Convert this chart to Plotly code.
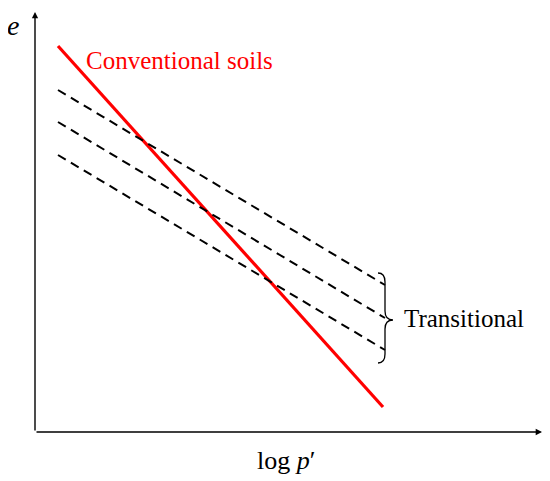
import plotly.graph_objects as go

# Schematic e - log p' diagram (axis units: x = log p', y = e, origin at axes corner)
red_x = [23, 348]
red_y = [386, 25]

dash_x = [23, 350]
dash_upper = [342, 147]
dash_middle = [310, 114]
dash_lower = [277, 82]

X_END, Y_END = 507, 420
SERIF = "Liberation Serif, DejaVu Serif, serif"

fig = go.Figure()

fig.add_trace(go.Scatter(
    x=red_x, y=red_y, mode="lines",
    line=dict(color="#FF0000", width=3.2),
    hoverinfo="skip", showlegend=False,
))
for ys in (dash_upper, dash_middle, dash_lower):
    fig.add_trace(go.Scatter(
        x=dash_x, y=ys, mode="lines",
        line=dict(color="black", width=2, dash="9px,6px"),
        hoverinfo="skip", showlegend=False,
    ))

# curly brace grouping the dashed lines
bx0, bx1, bx2 = 343, 350, 358
by_top, by_mid, by_bot = 159, 112, 69
brace = (
    f"M {bx0},{by_top} Q {bx1},{by_top} {bx1},{by_top - 9} "
    f"L {bx1},{by_mid + 9} Q {bx1},{by_mid} {bx2},{by_mid} "
    f"Q {bx1},{by_mid} {bx1},{by_mid - 9} "
    f"L {bx1},{by_bot + 9} Q {bx1},{by_bot} {bx0},{by_bot}"
)

# ranges are shifted by the page's 8px body margin
fig.update_layout(
    width=550, height=481,
    margin=dict(l=0, r=0, t=0, b=0),
    paper_bgcolor="white", plot_bgcolor="white",
    xaxis=dict(visible=False, range=[-27, 523], fixedrange=True),
    yaxis=dict(visible=False, range=[-57, 424], fixedrange=True),
    shapes=[dict(type="path", path=brace, line=dict(color="black", width=1.3))],
    annotations=[
        # axes with arrow heads
        dict(x=X_END, y=0, ax=0, ay=0, xref="x", yref="y", axref="x", ayref="y",
             text="", showarrow=True, arrowhead=2, arrowsize=0.9, arrowwidth=1.4,
             arrowcolor="black"),
        dict(x=0, y=Y_END, ax=0, ay=0, xref="x", yref="y", axref="x", ayref="y",
             text="", showarrow=True, arrowhead=2, arrowsize=0.9, arrowwidth=1.4,
             arrowcolor="black"),
        dict(x=-22, y=1, yref="paper", yanchor="top", text="<i>e</i>",
             showarrow=False, font=dict(family=SERIF, size=28, color="black")),
        dict(x=251, y=-28, text="log <i>p</i>′", showarrow=False,
             font=dict(family=SERIF, size=26, color="black")),
        dict(x=49, y=372, text="Conventional soils", showarrow=False,
             xanchor="left", font=dict(family=SERIF, size=25, color="#FF0000")),
        dict(x=367, y=114, text="Transitional", showarrow=False,
             xanchor="left", font=dict(family=SERIF, size=25, color="black")),
    ],
)

fig.write_html("out.html")
